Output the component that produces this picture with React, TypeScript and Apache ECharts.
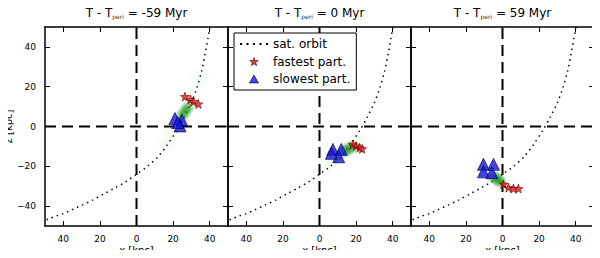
import React, { useEffect, useRef } from 'react';
import * as echarts from 'echarts';

const FONT = 'DejaVu Sans';

// Panel titles (T - T_peri in Myr)
const panelTimes = ['-59', '0', '59'];
// Axis titles
const xName = 'x [kpc]';
const yName = 'z [kpc]';
// Tick values
const xTicks = [-40, -20, 0, 20, 40];
const yTicks = [-40, -20, 0, 20, 40];

// Satellite orbit (same in every panel)
const orbitX = [-52, -48, -44, -40, -35, -30, -24, -18, -12, -6, 0, 6, 12, 17, 22, 26, 30, 33, 35.5, 37.6, 39, 40.5];
const orbitZ = [-48, -46.5, -45, -43.8, -41.7, -39.6, -37, -34, -31, -27.8, -24, -20, -15, -9, -2, 4.5, 12, 19.5, 27.5, 37, 44, 52];

// Panel 1 (-59 Myr)
const fast1X = [26.5, 29.5, 31, 33.8];
const fast1Z = [15, 13.5, 12.5, 11.3];
const slow1X = [21, 24.7, 23.8, 22.5];
const slow1Z = [4, 3.3, 0.3, 2];
const core1X = [25, 26.5, 28];
const core1Z = [5.5, 7.5, 9.5];
const halo1X = [16, 20, 24, 30, 34];
const halo1Z = [-8, -2, 5, 15, 24];

// Panel 2 (0 Myr)
const fast2X = [18.2, 20, 21.9, 23.3];
const fast2Z = [-9, -9.8, -10.7, -11.2];
const slow2X = [7.3, 11.9, 10.5, 6.5];
const slow2Z = [-11.5, -11.5, -15.2, -13.5];
const core2X = [13.5, 15.5, 17.5];
const core2Z = [-12.5, -11.5, -10.5];
const halo2X = [5, 10, 16, 22];
const halo2Z = [-18, -15, -11, -7];

// Panel 3 (+59 Myr)
const fast3X = [0.5, 3.3, 6, 8.7];
const fast3Z = [-29, -30.7, -31.2, -31.2];
const slow3X = [-10.4, -4.9, -10.4, -5.8];
const slow3Z = [-19, -19, -22.8, -23.2];
const core3X = [-4.5, -3, -1.5];
const core3Z = [-25.5, -26.5, -27.5];
const halo3X = [-12, -7, -2, 4];
const halo3Z = [-21, -23.5, -27, -30];

const fastX = [fast1X, fast2X, fast3X];
const fastZ = [fast1Z, fast2Z, fast3Z];
const slowX = [slow1X, slow2X, slow3X];
const slowZ = [slow1Z, slow2Z, slow3Z];
const coreX = [core1X, core2X, core3X];
const coreZ = [core1Z, core2Z, core3Z];
const haloX = [halo1X, halo2X, halo3X];
const haloZ = [halo1Z, halo2Z, halo3Z];

const zip = (xs: number[], zs: number[]) => xs.map((x, k) => [x, zs[k]]);

const STAR = 'path://M0,-10 L2.35,-3.24 L9.51,-3.09 L3.8,1.24 L5.88,8.09 L0,4 L-5.88,8.09 L-3.8,1.24 L-9.51,-3.09 L-2.35,-3.24 Z';
const STAR_LEG = 'path://M0,-12 M0,10 M0,-10 L2.35,-3.24 L9.51,-3.09 L3.8,1.24 L5.88,8.09 L0,4 L-5.88,8.09 L-3.8,1.24 L-9.51,-3.09 L-2.35,-3.24 Z';
const TRI_LEG = 'path://M5,-1.2 M5,9.86 M5,0 L10,8.66 L0,8.66 Z';
const DOTS = 'path://M0,0h1.6v1.6h-1.6z M5,0h1.6v1.6h-1.6z M10,0h1.6v1.6h-1.6z M15,0h1.6v1.6h-1.6z M20,0h1.6v1.6h-1.6z';

const GL = 45;
const GW = 183;
const GT = 27;
const GH = 199;

const fmtNum = (v: number) => (v < 0 ? '\u2212' + Math.abs(v) : String(v));

export default function App() {
  const ref = useRef<HTMLDivElement>(null);
  useEffect(() => {
    if (!ref.current) return;
    const chart = echarts.init(ref.current, undefined, { renderer: 'svg' });

    const grid = [0, 1, 2].map((i) => ({
      left: GL + GW * i, top: GT, width: GW, height: GH,
      containLabel: false, outerBoundsMode: 'none',
    }));
    const axisLine = { onZero: false, lineStyle: { color: '#000', width: 1.5 } };
    const tickStyle = { color: '#000', width: 1 };

    const xAxis: any[] = [];
    const yAxis: any[] = [];
    [0, 1, 2].forEach((i) => {
      xAxis.push({
        gridIndex: i, type: 'value', min: -50, max: 50, position: 'bottom',
        axisLine, splitLine: { show: false },
        axisTick: { inside: true, length: 5, customValues: xTicks, lineStyle: tickStyle },
        axisLabel: { customValues: xTicks, formatter: (v: number) => String(Math.abs(v)), color: '#000', fontSize: 9, fontFamily: FONT, margin: 8 },
      });
      xAxis.push({
        gridIndex: i, type: 'value', min: -50, max: 50, position: 'top',
        axisLine, splitLine: { show: false },
        axisTick: { inside: true, length: 5, customValues: xTicks, lineStyle: tickStyle },
        axisLabel: { show: false },
      });
      yAxis.push({
        gridIndex: i, type: 'value', min: -50, max: 50, position: 'left',
        axisLine, splitLine: { show: false },
        axisTick: { inside: true, length: 5, customValues: yTicks, lineStyle: tickStyle },
        axisLabel: { show: i === 0, customValues: yTicks, formatter: fmtNum, color: '#000', fontSize: 9, fontFamily: FONT, margin: 9 },
      });
      yAxis.push({
        gridIndex: i, type: 'value', min: -50, max: 50, position: 'right',
        axisLine, splitLine: { show: false },
        axisTick: { inside: true, length: 5, customValues: yTicks, lineStyle: tickStyle },
        axisLabel: { show: false },
      });
    });

    const series: any[] = [];
    [0, 1, 2].forEach((i) => {
      const ax = { xAxisIndex: 2 * i, yAxisIndex: 2 * i };
      series.push({
        type: 'line', ...ax, data: [[0, -50], [0, 50]], symbol: 'none', silent: true, z: 2,
        lineStyle: { color: '#000', width: 2, type: [11, 6] },
      });
      series.push({
        type: 'line', ...ax, data: [[-50, 0], [50, 0]], symbol: 'none', silent: true, z: 2,
        lineStyle: { color: '#000', width: 2, type: [11, 6] },
      });
      series.push({
        type: 'line', name: 'sat. orbit', ...ax, data: zip(orbitX, orbitZ), symbol: 'none', smooth: 0.3, z: 3,
        lineStyle: { color: '#000', width: 1.5, type: [1.5, 4] }, itemStyle: { color: '#000' },
      });
      series.push({
        type: 'scatter', ...ax, data: zip(haloX[i], haloZ[i]), symbol: 'circle', symbolSize: 24, silent: true, z: 4,
        itemStyle: {
          color: { type: 'radial', x: 0.5, y: 0.5, r: 0.5, colorStops: [
            { offset: 0, color: 'rgba(80,180,80,0.10)' }, { offset: 1, color: 'rgba(80,180,80,0)' }] },
        },
      });
      series.push({
        type: 'scatter', ...ax, data: zip(coreX[i], coreZ[i]), symbol: 'circle', symbolSize: 15, silent: true, z: 5,
        itemStyle: {
          color: { type: 'radial', x: 0.5, y: 0.5, r: 0.5, colorStops: [
            { offset: 0, color: 'rgba(10,140,10,0.9)' }, { offset: 0.55, color: 'rgba(30,155,30,0.5)' }, { offset: 1, color: 'rgba(60,170,60,0)' }] },
        },
      });
      series.push({
        type: 'scatter', name: 'slowest part.', ...ax, data: zip(slowX[i], slowZ[i]), symbol: 'triangle', symbolSize: 12, z: 6,
        itemStyle: { color: '#1515dd', borderColor: '#000044', borderWidth: 0.8 },
      });
      series.push({
        type: 'scatter', name: 'fastest part.', ...ax, data: zip(fastX[i], fastZ[i]), symbol: STAR, symbolSize: 9, z: 7,
        itemStyle: { color: '#e81818', borderColor: '#550000', borderWidth: 0.7 },
      });
    });

    const titleStyle = {
      fontSize: 12, fontWeight: 'normal', color: '#000', fontFamily: FONT,
      rich: { s: { fontSize: 6, fontFamily: FONT, color: '#333', verticalAlign: 'bottom', padding: [6, 0, 0, 0] } },
    };
    const title: any[] = panelTimes.map((t, i) => ({
      text: `T - T{s|peri} = ${t} Myr`,
      left: GL + GW * i + GW / 2,
      top: 7,
      textAlign: 'center',
      padding: 0,
      textStyle: titleStyle,
    }));
    [0, 1, 2].forEach((i) => {
      title.push({
        text: xName,
        left: GL + GW * i + GW / 2,
        top: 245,
        textAlign: 'center',
        padding: 0,
        textStyle: { fontSize: 10, fontWeight: 'normal', color: '#000', fontFamily: FONT },
      });
    });

    const graphic: any[] = [{
      type: 'text', x: 8, y: GT + GH / 2, rotation: Math.PI / 2, silent: true,
      style: {
        text: yName, fill: '#000', fontSize: 10, fontFamily: FONT,
        align: 'center', verticalAlign: 'middle', legacy: false,
      },
    }];

    chart.setOption({
      animation: false,
      backgroundColor: '#fff',
      title,
      grid,
      xAxis,
      yAxis,
      graphic,
      legend: {
        left: 234, top: 33, orient: 'vertical', padding: [5, 6, 5, 6], itemGap: 5.5,
        itemWidth: 28, itemHeight: 10, symbolKeepAspect: true, selectedMode: false,
        backgroundColor: '#fff', borderColor: '#000', borderWidth: 1, borderRadius: 0,
        textStyle: { fontSize: 12, color: '#000', fontFamily: FONT },
        data: [
          { name: 'sat. orbit', icon: DOTS, itemStyle: { color: '#000', borderWidth: 0 } },
          { name: 'fastest part.', icon: STAR_LEG, itemStyle: { color: '#b01818', borderColor: '#550000', borderWidth: 0.7 } },
          { name: 'slowest part.', icon: TRI_LEG, itemStyle: { color: '#1515dd', borderColor: '#000044', borderWidth: 0.8 } },
        ],
      },
      series,
    });
    return () => chart.dispose();
  }, []);
  return <div ref={ref} style={{ width: 600, height: 258, margin: -8 }} />;
}
